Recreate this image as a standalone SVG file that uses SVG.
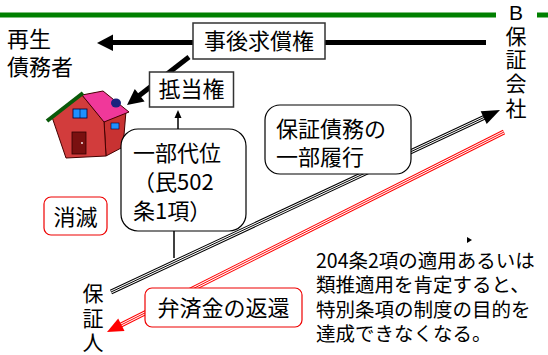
<svg xmlns="http://www.w3.org/2000/svg" width="548" height="355" viewBox="0 0 548 355">
<style>
text{font-family:"Noto Sans CJK JP","Noto Sans",sans-serif;fill:#000}
.t22{font-size:22px}
.v{font-size:21px;text-anchor:middle}
.box{fill:#fff;stroke:#333;stroke-width:1.5}
.rbox{fill:#fff;stroke:#000;stroke-width:1.2}
.redbox{fill:#fff;stroke:#e00;stroke-width:1.2}
.thick{stroke:#000;stroke-width:5;fill:none}
.note{font-size:19.5px}
</style>
<rect width="548" height="355" fill="#fff"/>
<g id="header">
<line x1="0" y1="15" x2="496" y2="15" stroke="#008000" stroke-width="5"/>
<line x1="537" y1="15" x2="548" y2="15" stroke="#008000" stroke-width="5"/>
</g>
<g id="connectors">
<line class="thick" x1="486" y1="42.5" x2="110" y2="42.5"/>
<polygon points="97,43 113,34.5 113,51"/>
<line class="thick" x1="189" y1="57" x2="138" y2="96.5"/>
<polygon points="127,105 144.6,101.5 134.8,88.9"/>
<line stroke="#000" stroke-width="1.5" x1="178" y1="129" x2="178" y2="117"/>
<polygon points="178,110 174.5,118 181.5,118"/>
<line stroke="#000" stroke-width="1.5" x1="174" y1="231" x2="174" y2="258"/>
<g id="black-triple">
<line x1="111" y1="292" x2="485" y2="117" stroke="#000" stroke-width="5"/>
<line x1="111" y1="292" x2="485" y2="117" stroke="#fff" stroke-width="3"/>
<line x1="111" y1="292" x2="485" y2="117" stroke="#000" stroke-width="1"/>
<polygon points="500,110 486.7,123.9 480.7,111.3"/>
</g>
<g id="red-triple">
<line x1="504" y1="132" x2="120" y2="325.5" stroke="#f00" stroke-width="5"/>
<line x1="504" y1="132" x2="120" y2="325.5" stroke="#fff" stroke-width="3"/>
<line x1="504" y1="132" x2="120" y2="325.5" stroke="#f00" stroke-width="1"/>
<polygon points="107,332 124.5,331 118.2,318.6" fill="#f00"/>
</g>
<polygon points="467,237 472,240 467,243"/>
</g>
<g id="saisei-saimusha">
<text class="t22" x="7" y="47">再生</text>
<text class="t22" x="7" y="75">債務者</text>
</g>
<g id="b-hosho">
<text class="v"><tspan x="516" y="20" font-family="Liberation Sans,sans-serif">B</tspan><tspan x="516" y="44">保</tspan><tspan x="516" y="67">証</tspan><tspan x="516" y="91">会</tspan><tspan x="516" y="116">社</tspan></text>
</g>
<g id="jigo">
<rect class="box" x="193" y="23" width="132" height="36"/>
<text class="t22" x="259" y="49" text-anchor="middle">事後求償権</text>
</g>
<g id="teito">
<rect class="box" x="149.5" y="72" width="84" height="35"/>
<text class="t22" x="191.5" y="97" text-anchor="middle">抵当権</text>
</g>
<g id="house">
<polygon points="104,121 126,111 123,147 106,156" fill="#c83232" stroke="#400" stroke-width="1"/>
<polygon points="52,117 82,95 104,121 106,156 66,158" fill="#d23c3c" stroke="#400" stroke-width="1"/>
<polygon points="82,95 103,91 129,112 104,122" fill="#f0389a" stroke="#400" stroke-width="1"/>
<line x1="47" y1="121" x2="83" y2="93" stroke="#0a5a0a" stroke-width="4"/>
<ellipse cx="116" cy="103" rx="5" ry="4.5" fill="#1a237e"/>
<rect x="73" y="109" width="14" height="9" fill="#1e90ff" stroke="#003" stroke-width="0.8"/>
<line x1="80" y1="109" x2="80" y2="118" stroke="#003" stroke-width="0.6"/>
<rect x="111" y="123" width="8" height="6" fill="#1e90ff" stroke="#003" stroke-width="0.6"/>
<rect x="72" y="132" width="14" height="22" fill="#7a1010" stroke="#300" stroke-width="0.8"/>
<circle cx="82" cy="143" r="0.9" fill="#fff"/>
</g>
<g id="ichibu-daii">
<rect class="rbox" x="121" y="129" width="125" height="102" rx="17"/>
<text class="t22" x="133" y="161">一部代位</text>
<text class="t22" x="133" y="190">（民502</text>
<text class="t22" x="133" y="219">条1項）</text>
</g>
<g id="hosho-saimu">
<rect class="rbox" x="265" y="105" width="146" height="69" rx="15"/>
<text class="t22" x="276" y="137">保証債務の</text>
<text class="t22" x="276" y="165">一部履行</text>
</g>
<g id="shometsu">
<rect class="redbox" x="44" y="197" width="63" height="38" rx="7"/>
<text class="t22" x="75.5" y="225" text-anchor="middle">消滅</text>
</g>
<g id="bensai">
<rect class="redbox" x="145" y="288" width="157" height="39" rx="7"/>
<text class="t22" x="223.5" y="316" text-anchor="middle">弁済金の返還</text>
</g>
<g id="hoshonin">
<text class="v"><tspan x="93" y="301">保</tspan><tspan x="93" y="326">証</tspan><tspan x="93" y="350">人</tspan></text>
</g>
<g id="note">
<text class="note" x="316" y="268">204条2項の適用あるいは</text>
<text class="note" x="316" y="292">類推適用を肯定すると、</text>
<text class="note" x="316" y="317">特別条項の制度の目的を</text>
<text class="note" x="316" y="341">達成できなくなる。</text>
</g>
</svg>
